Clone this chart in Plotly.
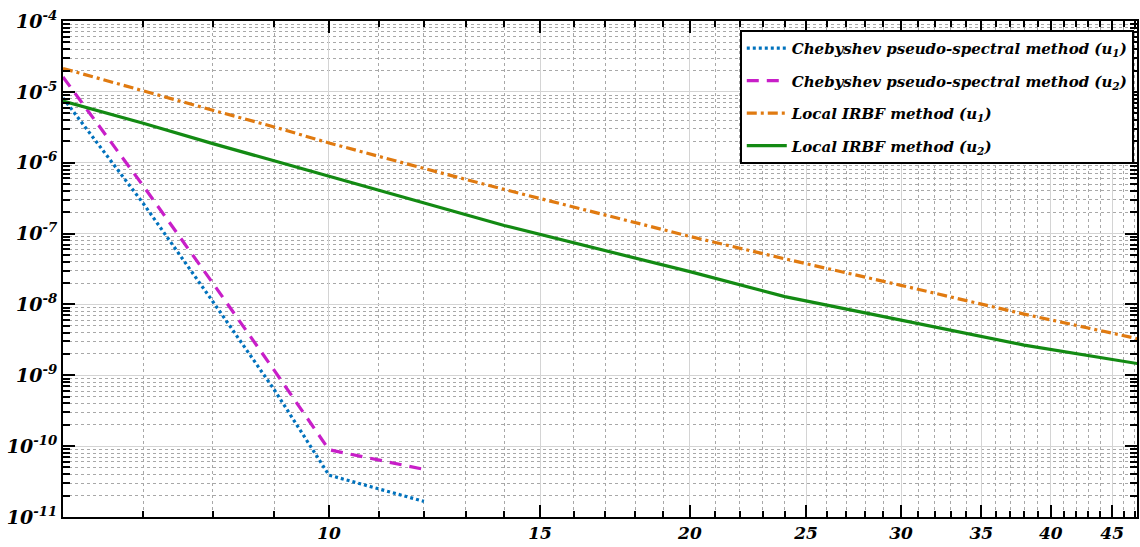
import plotly.graph_objects as go
import numpy as np

# ---- data ----
x_cheb = [6, 7, 8, 9, 10, 12]
cheb_u1 = [8.2e-6, 2.66e-7, 1.1e-8, 6.3e-10, 3.9e-11, 1.66e-11]
cheb_u2 = [1.62e-5, 4.7e-7, 2.0e-8, 1.18e-9, 8.9e-11, 4.7e-11]

x_irbf = [6, 7, 8, 9, 10, 12, 14, 20, 24, 30, 38, 48]
irbf_u1 = [2.14e-5, 1.02e-5, 5.5e-6, 3.2e-6, 1.9e-6, 8.3e-7, 4.2e-7, 9.1e-8, 4.4e-8, 1.86e-8, 7.3e-9, 3.1e-9]
irbf_u2 = [7.4e-6, 3.6e-6, 1.86e-6, 1.06e-6, 6.5e-7, 2.7e-7, 1.3e-7, 2.9e-8, 1.29e-8, 6.0e-9, 2.67e-9, 1.4e-9]

names = [
    "Chebyshev pseudo-spectral method (u<sub>1</sub>)",
    "Chebyshev pseudo-spectral method (u<sub>2</sub>)",
    "Local IRBF method (u<sub>1</sub>)",
    "Local IRBF method (u<sub>2</sub>)",
]

x_ticks = [10, 15, 20, 25, 30, 35, 40, 45]
x_minor = [v for v in range(6, 48) if v not in x_ticks]
y_exps = list(range(-11, -3))
y_ticks = [10.0 ** e for e in y_exps]
y_ticktext = ["10<sup>%d</sup>" % e for e in y_exps]
y_minor = [m * 10.0 ** e for e in range(-11, -4) for m in range(2, 10)]

FONT = "DejaVu Serif"

fig = go.Figure()
fig.add_trace(go.Scatter(x=x_cheb, y=cheb_u1, mode="lines", name=names[0], legendgroup="a",
                         line=dict(color="#0072BD", width=3.2, dash="3px,3px")))
fig.add_trace(go.Scatter(x=x_cheb, y=cheb_u2, mode="lines", name=names[1], legendgroup="b",
                         line=dict(color="#C81EC8", width=3.2, dash="12px,8px")))
fig.add_trace(go.Scatter(x=x_irbf, y=irbf_u1, mode="lines", name=names[2], legendgroup="c",
                         line=dict(color="#E07A10", width=3.2, dash="10px,4px,3px,4px")))
fig.add_trace(go.Scatter(x=x_irbf, y=irbf_u2, mode="lines", name=names[3], legendgroup="d",
                         line=dict(color="#138A13", width=3.2)))

tickfont = dict(family=FONT, size=17, color="black", weight="bold", style="italic")

fig.update_xaxes(
    type="log", range=[np.log10(6), np.log10(47.2)],
    tickmode="array", tickvals=x_ticks, ticktext=[str(v) for v in x_ticks],
    ticks="inside", ticklen=12, tickwidth=2, tickcolor="black",
    tickfont=tickfont,
    showline=True, linecolor="black", linewidth=2, mirror="ticks",
    showgrid=True, gridcolor="#d4d4d4", gridwidth=1,
    minor=dict(tickmode="array", tickvals=x_minor, ticks="inside", ticklen=6,
               tickwidth=1.5, tickcolor="black", showgrid=True,
               gridcolor="#a8a8a8", griddash="dot", gridwidth=1),
    zeroline=False,
)
fig.update_yaxes(
    type="log", range=[-11, -4],
    tickmode="array", tickvals=y_ticks, ticktext=y_ticktext,
    ticks="inside", ticklen=12, tickwidth=2, tickcolor="black",
    tickfont=dict(family=FONT, size=19, color="black", weight="bold", style="italic"),
    showline=True, linecolor="black", linewidth=2, mirror="ticks",
    showgrid=True, gridcolor="#d4d4d4", gridwidth=1,
    minor=dict(tickmode="array", tickvals=y_minor, ticks="inside", ticklen=7,
               tickwidth=1.5, tickcolor="black", showgrid=True,
               gridcolor="#a8a8a8", griddash="dot", gridwidth=1),
    zeroline=False,
)

fig.update_layout(
    width=1140, height=547,
    margin=dict(l=63, r=1, t=21, b=30),
    paper_bgcolor="white", plot_bgcolor="white",
    showlegend=True,
    legend=dict(
        x=0.997, y=0.982, xanchor="right", yanchor="top",
        bgcolor="white", bordercolor="black", borderwidth=2,
        font=dict(family=FONT, size=15, color="black", weight="bold", style="italic"),
        traceorder="grouped", tracegroupgap=10, itemwidth=40,
    ),
)

fig.write_html("out.html", config={"displayModeBar": False},
               post_script="document.body.style.margin='0';document.body.style.overflow='hidden';")
